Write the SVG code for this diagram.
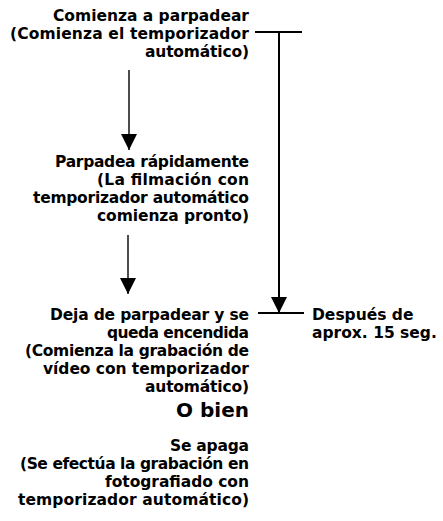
<svg xmlns="http://www.w3.org/2000/svg" width="443" height="521" viewBox="0 0 443 521">
<style>
.t{font-family:"DejaVu Sans",sans-serif;font-weight:bold;font-size:15.5px;fill:#000;text-anchor:end}
.l{font-family:"DejaVu Sans",sans-serif;font-weight:bold;font-size:15.5px;fill:#000}
.o{font-family:"DejaVu Sans",sans-serif;font-weight:bold;font-size:20px;fill:#000;text-anchor:end}
.c{stroke:#000;stroke-width:1.4;fill:none}
.k{stroke:#000;stroke-width:2;fill:none}
</style>
<defs>
<marker id="ah" markerUnits="userSpaceOnUse" markerWidth="16" markerHeight="16" refX="16" refY="8" orient="auto" viewBox="0 0 16 16">
<path d="M0,0 L16,8 L0,16 Z" fill="#000"/>
</marker>
</defs>
<g id="connectors">
<line class="c" x1="129" y1="70" x2="129" y2="150" marker-end="url(#ah)"/>
<line class="c" x1="128" y1="235" x2="128" y2="294" marker-end="url(#ah)"/>
<line class="k" x1="255" y1="32" x2="302" y2="32"/>
<line class="k" x1="279" y1="32" x2="279" y2="313" marker-end="url(#ah)"/>
<line class="k" x1="258" y1="313" x2="304" y2="313"/>
</g>
<g id="n1">
<text class="t" x="249" y="21" textLength="196">Comienza a parpadear</text>
<text class="t" x="249" y="39" textLength="239">(Comienza el temporizador</text>
<text class="t" x="249" y="57" textLength="104">automático)</text>
</g>
<g id="n2">
<text class="t" x="249" y="167" textLength="194">Parpadea rápidamente</text>
<text class="t" x="249" y="185" textLength="152">(La filmación con</text>
<text class="t" x="249" y="203" textLength="216">temporizador automático</text>
<text class="t" x="249" y="221" textLength="152">comienza pronto)</text>
</g>
<g id="n3">
<text class="t" x="249" y="320" textLength="199">Deja de parpadear y se</text>
<text class="t" x="249" y="338" textLength="142">queda encendida</text>
<text class="t" x="249" y="356" textLength="224">(Comienza la grabación de</text>
<text class="t" x="249" y="374" textLength="206">vídeo con temporizador</text>
<text class="t" x="249" y="392" textLength="104">automático)</text>
</g>
<g id="or">
<text class="o" x="249" y="417">O bien</text>
</g>
<g id="n4">
<text class="t" x="249" y="451" textLength="79">Se apaga</text>
<text class="t" x="249" y="469" textLength="229">(Se efectúa la grabación en</text>
<text class="t" x="249" y="487" textLength="144">fotografiado con</text>
<text class="t" x="249" y="505" textLength="231">temporizador automático)</text>
</g>
<g id="time">
<text class="l" x="312" y="320">Después de</text>
<text class="l" x="312" y="338">aprox. 15 seg.</text>
</g>
</svg>
